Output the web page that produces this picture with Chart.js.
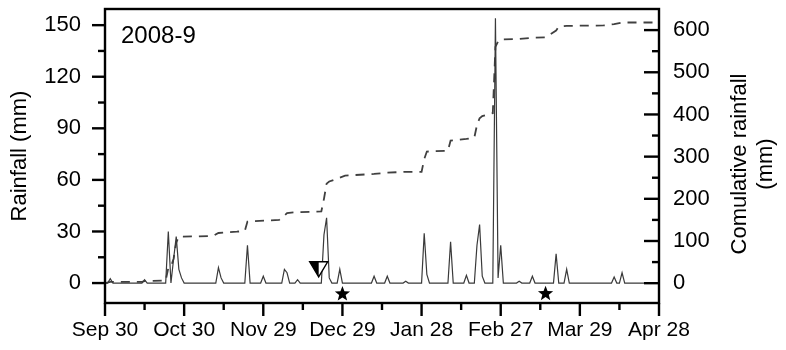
<!DOCTYPE html>
<html>
<head>
<meta charset="utf-8">
<title>Rainfall 2008-9</title>
<script src="https://cdn.jsdelivr.net/npm/chart.js@4.4.0/dist/chart.umd.min.js"></script>
<style>
  html, body { margin: 0; padding: 0; background: #fff; }
  #wrap { width: 786px; height: 350px; position: relative; }
  canvas { display: block; }
</style>
</head>
<body>
<div id="wrap"><canvas id="chart" width="786" height="350"></canvas></div>
<script>
const FONT = "'Liberation Sans', Arial, Helvetica, sans-serif";

// Date axis: days counted from Sep 30 2008, labelled every 30 days
const dateLabels = ['Sep 30', 'Oct 30', 'Nov 29', 'Dec 29', 'Jan 28', 'Feb 27', 'Mar 29', 'Apr 28'];
const dayTicks = [0, 15, 30, 45, 60, 75, 90, 105, 120, 135, 150, 165, 180, 195, 210];
const rainTicks = [0, 15, 30, 45, 60, 75, 90, 105, 120, 135, 150];
const cumTicks = [0, 50, 100, 150, 200, 250, 300, 350, 400, 450, 500, 550, 600];

// Daily rainfall (mm) on the days it rained; every other day is dry
const rainDays = [2, 15, 24, 26, 27, 28, 29, 43, 44, 54, 60, 68, 69, 73, 83, 84, 85, 89, 102, 107, 114,
                  121, 122, 131, 137, 141, 142, 143, 148, 149, 150, 157, 162, 171, 175, 193, 196];
const rainMm   = [2.5, 2, 30, 14, 27, 8, 3, 9, 3, 22, 4, 8, 6, 2, 28, 38, 3, 8, 4, 4, 1,
                  29, 5, 24, 4.5, 22, 34, 4, 154, 3, 22, 1, 4, 17, 8, 3.5, 6];

// Cumulative rainfall (mm)
const cumDays = [0, 2, 14, 15, 23, 24, 25, 26, 27, 28, 41, 43, 50, 53, 54, 66, 68, 69, 72, 82,
                 83, 84, 85, 89, 91, 102, 107, 114, 120, 121, 122, 130, 131, 137, 140, 141, 142, 143,
                 147, 148, 149, 150, 157, 162, 167, 171, 172, 175, 189, 193, 196, 210];
const cumMm   = [0, 3, 3, 5, 6, 36, 39, 58, 96, 110, 112, 119, 122, 124, 146, 150, 160, 166, 168, 170,
                 200, 236, 241, 250, 255, 259, 262, 264, 264, 294, 312, 314, 338, 342, 345, 375, 391, 396,
                 403, 560, 573, 578, 579, 582, 583, 599, 608, 610, 611, 614, 618, 618];

// Event markers
const triangleDay = [81];
const triangleMm = [8];
const starDays = [90, 167];
const starMm = [-6.4, -6.2];

const FIRST_DAY = 0, LAST_DAY = 210;

// full daily series, dry days at zero
const rainByDay = {};
rainDays.forEach((d, i) => { rainByDay[d] = rainMm[i]; });
const dailySeries = [];
for (let d = FIRST_DAY; d <= LAST_DAY; d++) {
  dailySeries.push({ x: d, y: rainByDay[d] !== undefined ? rainByDay[d] : 0 });
}
const cumSeries = cumDays.map((d, i) => ({ x: d, y: cumMm[i] }));

function line(ctx, x1, y1, x2, y2) {
  ctx.beginPath(); ctx.moveTo(x1, y1); ctx.lineTo(x2, y2); ctx.stroke();
}

function star(ctx, cx, cy, rOut, rIn) {
  ctx.beginPath();
  for (let i = 0; i < 10; i++) {
    const r = i % 2 === 0 ? rOut : rIn;
    const a = -Math.PI / 2 + i * Math.PI / 5;
    const px = cx + r * Math.cos(a), py = cy + r * Math.sin(a);
    if (i === 0) ctx.moveTo(px, py); else ctx.lineTo(px, py);
  }
  ctx.closePath();
  ctx.fill();
}

const framePlugin = {
  id: 'frameAndMarks',
  afterDatasetsDraw(chart) {
    const { ctx, chartArea: { left, right, top, bottom }, scales: { x, y, y2 } } = chart;
    ctx.save();
    ctx.strokeStyle = '#000';
    ctx.lineWidth = 2.4;
    ctx.strokeRect(left, top, right - left, bottom - top);

    // tick marks
    rainTicks.forEach(v => {
      const py = y.getPixelForValue(v);
      line(ctx, left - (v % 30 === 0 ? 13 : 7), py, left, py);
    });
    cumTicks.forEach(v => {
      const py = y2.getPixelForValue(v);
      line(ctx, right, py, right - (v % 100 === 0 ? 15 : 7), py);
    });
    dayTicks.forEach(v => {
      const px = x.getPixelForValue(v);
      line(ctx, px, bottom, px, bottom + (v % 30 === 0 ? 13 : 7));
    });

    // triangle marker, half filled
    triangleDay.forEach((d, i) => {
      const cx = x.getPixelForValue(d), cy = y.getPixelForValue(triangleMm[i]);
      const w = 9, h = 7.5;
      ctx.fillStyle = '#fff';
      ctx.beginPath();
      ctx.moveTo(cx - w, cy - h); ctx.lineTo(cx + w, cy - h); ctx.lineTo(cx, cy + h); ctx.closePath();
      ctx.fill();
      ctx.fillStyle = '#000';
      ctx.beginPath();
      ctx.moveTo(cx - w, cy - h); ctx.lineTo(cx, cy - h); ctx.lineTo(cx, cy + h); ctx.closePath();
      ctx.fill();
      ctx.lineWidth = 1.4;
      ctx.beginPath();
      ctx.moveTo(cx - w, cy - h); ctx.lineTo(cx + w, cy - h); ctx.lineTo(cx, cy + h); ctx.closePath();
      ctx.stroke();
    });

    // star markers
    ctx.fillStyle = '#000';
    starDays.forEach((d, i) => {
      star(ctx, x.getPixelForValue(d), y.getPixelForValue(starMm[i]), 8, 3.4);
    });

    // season label
    ctx.fillStyle = '#000';
    ctx.font = '24px ' + FONT;
    ctx.textAlign = 'left';
    ctx.textBaseline = 'alphabetic';
    ctx.fillText('2008-9', 121, 43);

    // right axis title, two lines reading upward
    ctx.font = '22px ' + FONT;
    ctx.textAlign = 'center';
    ctx.textBaseline = 'middle';
    ctx.save();
    ctx.translate(740, 164);
    ctx.rotate(-Math.PI / 2);
    ctx.fillText('Comulative rainfall', 0, 0);
    ctx.restore();
    ctx.save();
    ctx.translate(766, 164);
    ctx.rotate(-Math.PI / 2);
    ctx.fillText('(mm)', 0, 0);
    ctx.restore();

    ctx.restore();
  }
};

new Chart(document.getElementById('chart'), {
  type: 'line',
  data: {
    datasets: [
      {
        label: 'Rainfall',
        data: dailySeries,
        yAxisID: 'y',
        borderColor: '#3a3a3a',
        borderWidth: 1.2,
        pointRadius: 0,
        tension: 0,
        fill: false
      },
      {
        label: 'Cumulative rainfall',
        data: cumSeries,
        yAxisID: 'y2',
        borderColor: '#404040',
        borderWidth: 1.8,
        borderDash: [9, 7],
        pointRadius: 0,
        tension: 0,
        fill: false
      }
    ]
  },
  options: {
    responsive: false,
    animation: false,
    devicePixelRatio: 1,
    layout: { padding: { top: 9, left: 0, right: 0, bottom: 0 } },
    plugins: { legend: { display: false }, tooltip: { enabled: false } },
    scales: {
      x: {
        type: 'linear',
        position: 'bottom',
        min: FIRST_DAY,
        max: LAST_DAY,
        grid: { display: false, drawTicks: false },
        border: { display: false },
        afterBuildTicks: s => { s.ticks = dayTicks.map(v => ({ value: v })); },
        ticks: {
          autoSkip: false,
          maxRotation: 0,
          padding: 15,
          color: '#000',
          font: { family: FONT, size: 21 },
          callback: v => (v % 30 === 0 ? dateLabels[v / 30] : '')
        },
        afterFit: s => { s.height = 47; s.paddingLeft = 0; s.paddingRight = 0; }
      },
      y: {
        type: 'linear',
        position: 'left',
        min: -11.6,
        max: 159.4,
        grid: { display: false, drawTicks: false },
        border: { display: false },
        afterBuildTicks: s => { s.ticks = rainTicks.map(v => ({ value: v })); },
        ticks: {
          autoSkip: false,
          padding: 24,
          color: '#000',
          font: { family: FONT, size: 22 },
          callback: v => (v % 30 === 0 ? String(v) : '')
        },
        title: {
          display: true,
          text: 'Rainfall (mm)',
          color: '#000',
          font: { family: FONT, size: 22 },
          padding: { top: 7, bottom: 0 }
        },
        afterFit: s => { s.width = 105; s.paddingTop = 0; s.paddingBottom = 0; }
      },
      y2: {
        type: 'linear',
        position: 'right',
        min: -47,
        max: 650,
        grid: { display: false, drawTicks: false },
        border: { display: false },
        afterBuildTicks: s => { s.ticks = cumTicks.map(v => ({ value: v })); },
        ticks: {
          autoSkip: false,
          padding: 14,
          color: '#000',
          font: { family: FONT, size: 22 },
          callback: v => (v % 100 === 0 ? String(v) : '')
        },
        afterFit: s => { s.width = 127; s.paddingTop = 0; s.paddingBottom = 0; }
      }
    }
  },
  plugins: [framePlugin]
});
</script>
</body>
</html>
